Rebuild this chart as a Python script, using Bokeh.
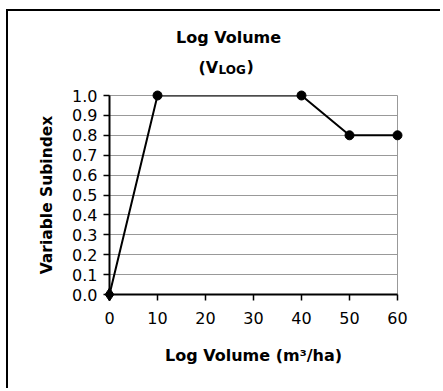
from bokeh.plotting import figure
from bokeh.models import Label, Range1d, FixedTicker, NumeralTickFormatter
from bokeh.embed import file_html
from bokeh.resources import INLINE

# Data
log_volume = [0, 10, 40, 50, 60]
subindex = [0.0, 1.0, 1.0, 0.8, 0.8]
x_ticks = [0, 10, 20, 30, 40, 50, 60]
y_ticks = [0.0, 0.1, 0.2, 0.3, 0.4, 0.5, 0.6, 0.7, 0.8, 0.9, 1.0]

FONT = "DejaVu Sans"
W, H = 434, 379

p = figure(width=W, height=H, output_backend="svg", toolbar_location=None,
           x_range=Range1d(0, 60), y_range=Range1d(0, 1.0),
           min_border_left=101, min_border_right=45, min_border_top=84, min_border_bottom=96)
p.styles = {"margin-left": "6px", "margin-top": "9px",
            "border-left": "2px solid black", "border-top": "2px solid black"}

p.background_fill_color = "white"
p.border_fill_color = "white"
p.outline_line_color = "#999999"
p.outline_line_width = 1

p.xaxis.ticker = FixedTicker(ticks=x_ticks)
p.yaxis.ticker = FixedTicker(ticks=y_ticks)
p.yaxis.formatter = NumeralTickFormatter(format="0.0")

for ax in (p.xaxis, p.yaxis):
    ax.axis_line_color = "black"
    ax.axis_line_width = 2
    ax.major_tick_line_color = "black"
    ax.major_tick_line_width = 1.5
    ax.major_tick_out = 6
    ax.major_tick_in = 0
    ax.minor_tick_line_color = None
    ax.major_label_text_font = FONT
    ax.major_label_text_font_size = "16px"
    ax.major_label_text_color = "black"
    ax.axis_label_text_font = FONT
    ax.axis_label_text_font_style = "bold"
    ax.axis_label_text_color = "black"

p.xaxis.major_label_standoff = 11
p.yaxis.major_label_standoff = 6
p.xaxis.axis_label = "Log Volume (m\u00b3/ha)"
p.xaxis.axis_label_text_font_size = "16px"
p.xaxis.axis_label_standoff = 19
p.yaxis.axis_label = "Variable Subindex"
p.yaxis.axis_label_text_font_size = "15.5px"
p.yaxis.axis_label_standoff = 13

p.xgrid.grid_line_color = None
p.ygrid.grid_line_color = "#999999"
p.ygrid.grid_line_width = 1

p.line(log_volume, subindex, line_color="black", line_width=2)
p.scatter(log_volume[1:], subindex[1:], marker="circle", size=9, color="black", level="overlay")
p.scatter(log_volume[:1], subindex[:1], marker="diamond", size=13, color="black", level="overlay")

# Title (two lines, second with subscript) in stacked panels above the frame.
# Each label sits in its own panel; dy compensates the stacking offset.
FRAME_LEFT, FRAME_TOP = 109, 95

def lab(text, px, py, size, dy, align="left"):
    p.add_layout(Label(x=px - FRAME_LEFT, y=FRAME_TOP - py + dy, x_units="screen", y_units="screen",
                       text=text, text_font=FONT, text_font_style="bold", text_font_size=size,
                       text_align=align, text_baseline="alphabetic", text_color="black"), "above")

lab("Log Volume", 228, 43, "16px", 6, "center")
lab("(V", 198, 71, "16px", -15)
lab("LOG", 218, 74, "12px", -33)
lab(")", 246, 71, "16px", -47)

open("out.html", "w").write(file_html(p, INLINE))
